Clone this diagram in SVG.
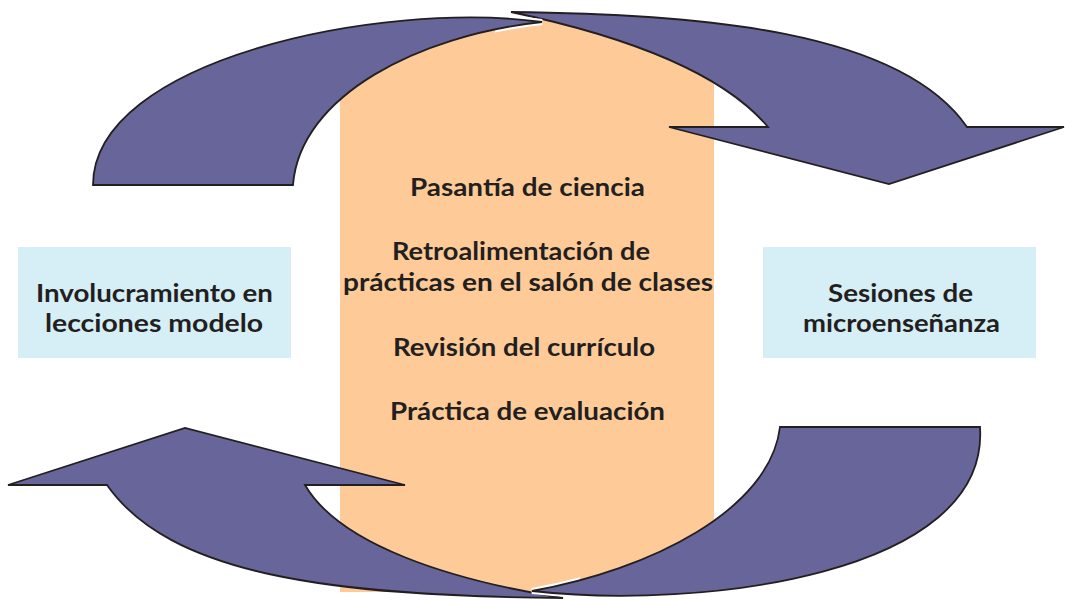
<svg xmlns="http://www.w3.org/2000/svg" width="1065" height="600" viewBox="0 0 1065 600">
  <style>
    .arrow { fill: #676599; stroke: #231f20; stroke-width: 1.8; stroke-linejoin: miter; }
    .halo { fill: none; stroke: #ffffff; stroke-width: 6; }
    .mask { fill: #ffffff; }
    .box { fill: #d6eef6; }
    .band { fill: #fecb98; }
    .t { font-family: Lato, "Liberation Sans", sans-serif; font-weight: 700; font-size: 24px; fill: #231f20; }
  </style>
  <defs>
    <clipPath id="clipTop"><rect x="495" y="0" width="60" height="40"/></clipPath>
    <clipPath id="clipBot"><rect x="520" y="575" width="60" height="25"/></clipPath>
    <path id="pTopLeft" d="M93,185 C93,60 380,0 542,22 C420,35 300,95 293,185 Z"/>
    <path id="pBotRight" d="M980,427 C990,575 700,610 532,591 C650,570 770,510 780,427 Z"/>
  </defs>

  <rect id="center-band" class="band" x="340" y="15" width="374" height="577"/>
  <path class="mask" d="M93,185 C93,60 380,0 542,22 L542,0 L93,0 Z"/>
  <path class="mask" d="M511,12 C700,14 900,30 967,127 L967,0 L511,0 Z"/>

  <g id="node-left">
    <rect class="box" x="18" y="247" width="273" height="111"/>
    <text class="t" x="36" y="302" textLength="237" lengthAdjust="spacingAndGlyphs">Involucramiento en</text>
    <text class="t" x="45" y="332" textLength="218" lengthAdjust="spacingAndGlyphs">lecciones modelo</text>
  </g>
  <g id="node-right">
    <rect class="box" x="763" y="247" width="273" height="111"/>
    <text class="t" x="828" y="302" textLength="145" lengthAdjust="spacingAndGlyphs">Sesiones de</text>
    <text class="t" x="803" y="332" textLength="197" lengthAdjust="spacingAndGlyphs">microenseñanza</text>
  </g>

  <g id="connectors">
    <path id="arrow-top-right" class="arrow" d="M511,12 C700,14 900,30 967,127 L1064,127 L889,184 L669,127 L768,127 C720,70 620,35 511,12 Z"/>
    <use href="#pTopLeft" class="halo" clip-path="url(#clipTop)"/>
    <use id="arrow-top-left" href="#pTopLeft" class="arrow"/>
    <path id="arrow-bottom-left" class="arrow" d="M563,598 C330,596 170,575 107,485 L8,485 L185,428 L405,485 L305,485 C340,545 450,580 563,598 Z"/>
    <use href="#pBotRight" class="halo" clip-path="url(#clipBot)"/>
    <use id="arrow-bottom-right" href="#pBotRight" class="arrow"/>
  </g>

  <g id="node-center">
    <text class="t" x="410" y="196" textLength="235" lengthAdjust="spacingAndGlyphs">Pasantía de ciencia</text>
    <text class="t" x="392" y="260" textLength="258" lengthAdjust="spacingAndGlyphs">Retroalimentación de</text>
    <text class="t" x="343" y="291" textLength="370" lengthAdjust="spacingAndGlyphs">prácticas en el salón de clases</text>
    <text class="t" x="393" y="356" textLength="262" lengthAdjust="spacingAndGlyphs">Revisión del currículo</text>
    <text class="t" x="390" y="420" textLength="275" lengthAdjust="spacingAndGlyphs">Práctica de evaluación</text>
  </g>
</svg>
